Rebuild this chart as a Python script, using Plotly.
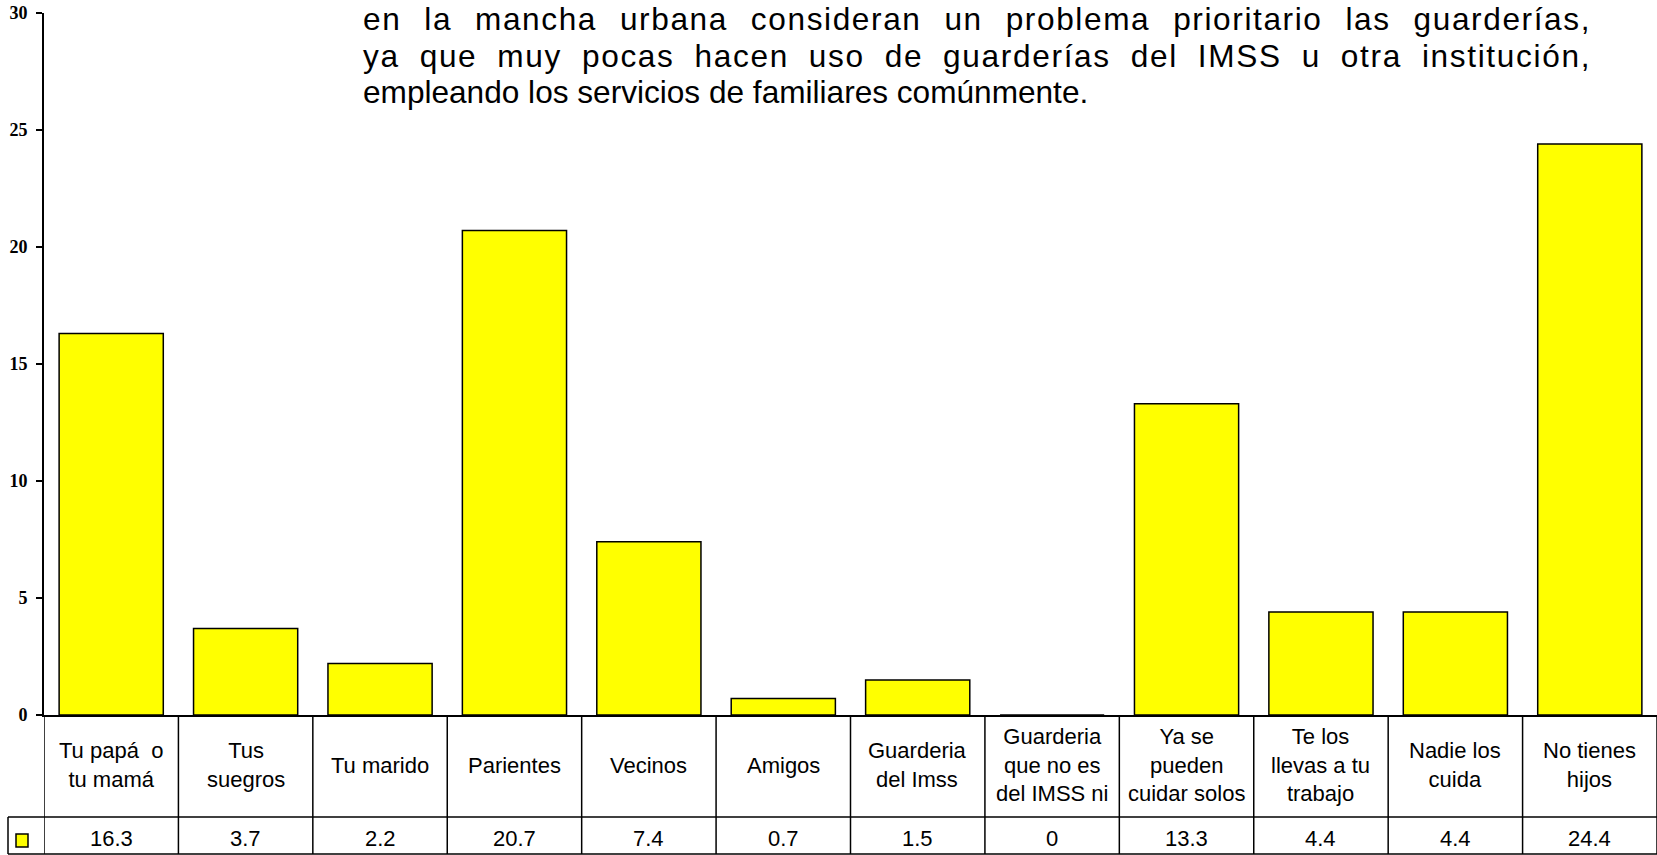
import plotly.graph_objects as go

# ---------------- data ----------------
categories = ["Tu papá o tu mamá", "Tus suegros", "Tu marido", "Parientes", "Vecinos",
              "Amigos", "Guarderia del Imss", "Guarderia que no es del IMSS ni",
              "Ya se pueden cuidar solos", "Te los llevas a tu trabajo",
              "Nadie los cuida", "No tienes hijos"]
category_labels = ["Tu papá  o<br>tu mamá", "Tus<br>suegros", "Tu marido", "Parientes",
                   "Vecinos", "Amigos", "Guarderia<br>del Imss",
                   "Guarderia<br>que no es<br>del IMSS ni", "Ya se<br>pueden<br>cuidar solos",
                   "Te los<br>llevas a tu<br>trabajo", "Nadie los<br>cuida", "No tienes<br>hijos"]
values = [16.3, 3.7, 2.2, 20.7, 7.4, 0.7, 1.5, 0, 13.3, 4.4, 4.4, 24.4]
value_labels = ["16.3", "3.7", "2.2", "20.7", "7.4", "0.7", "1.5", "0", "13.3", "4.4", "4.4", "24.4"]
y_ticks = [0, 5, 10, 15, 20, 25, 30]
paragraph_lines = [
    "en la mancha urbana consideran un problema prioritario las guarderías,",
    "ya que muy pocas hacen uso de guarderías del IMSS u otra institución,",
    "empleando los servicios de familiares comúnmente.",
]
paragraph_justified = [True, True, False]

# ---------------- layout helpers ----------------
W, H = 1657, 855
def xp(px):
    return px / W
def yp(py):
    return 1 - py / H

PLOT_L, PLOT_T, PLOT_B = 44, 13, 715
ROW1_B = 817
ROW2_B = 854
LEG_L = 8

YELLOW = "#FFFF00"
SANS = "Liberation Sans, Arial"

# Arial / Liberation Sans advance widths (units per 1000)
AW = {' ': 278, ',': 278, '.': 278, 'a': 556, 'b': 556, 'c': 500, 'd': 556, 'e': 556,
      'f': 278, 'g': 556, 'h': 556, 'i': 222, 'j': 222, 'k': 500, 'l': 222, 'm': 833,
      'n': 556, 'o': 556, 'p': 556, 'q': 556, 'r': 333, 's': 500, 't': 278, 'u': 556,
      'v': 500, 'w': 722, 'x': 500, 'y': 500, 'z': 500, 'í': 278, 'ó': 556, 'ú': 556,
      'á': 556, 'é': 556, 'I': 278, 'M': 833, 'S': 667}
def tw(s, size):
    return sum(AW.get(c, 556) for c in s) / 1000.0 * size

fig = go.Figure()
fig.add_trace(go.Bar(
    x=categories, y=values,
    marker=dict(color=YELLOW, line=dict(color="black", width=1.5)),
    showlegend=False, hoverinfo="x+y",
))

annotations = []
shapes = []

# category labels & value row
for cat, lab, vl in zip(categories, category_labels, value_labels):
    annotations.append(dict(x=cat, xref="x", y=yp((PLOT_B + ROW1_B) / 2 - 1), yref="paper",
                            text=lab, showarrow=False, xanchor="center", yanchor="middle",
                            font=dict(family=SANS, size=22, color="black")))
    annotations.append(dict(x=cat, xref="x", y=yp(838), yref="paper",
                            text=vl, showarrow=False, xanchor="center", yanchor="middle",
                            font=dict(family=SANS, size=22, color="black")))

# table grid lines
n = len(categories)
for i in range(n + 1):
    shapes.append(dict(type="line", xref="x", yref="paper", x0=i - 0.5, x1=i - 0.5,
                       y0=yp(PLOT_B), y1=yp(ROW2_B), line=dict(color="black", width=1.5)))
for yy in (ROW1_B, ROW2_B):
    shapes.append(dict(type="line", xref="paper", yref="paper", x0=xp(LEG_L), x1=1,
                       y0=yp(yy), y1=yp(yy), line=dict(color="black", width=1.5)))
shapes.append(dict(type="line", xref="paper", yref="paper", x0=xp(LEG_L), x1=xp(LEG_L),
                   y0=yp(ROW1_B), y1=yp(ROW2_B), line=dict(color="black", width=1.5)))
# legend key
shapes.append(dict(type="rect", xref="paper", yref="paper", x0=xp(16), x1=xp(28),
                   y0=yp(847), y1=yp(834), fillcolor=YELLOW, line=dict(color="black", width=1.5)))

# justified paragraph text: extra width shared between letter- and word-spacing
TXT_SIZE = 31.6
TXT_L, TXT_R = 362, 1590
LETTER_SHARE = 0.5
line_y = [19, 56, 92]
for line, just, ly in zip(paragraph_lines, paragraph_justified, line_y):
    if just:
        extra = TXT_R - TXT_L - tw(line, TXT_SIZE)
        ls = extra * LETTER_SHARE / len(line)
        ws = extra * (1 - LETTER_SHARE) / line.count(" ")
        txt = '<span style="letter-spacing:%.2fpx;word-spacing:%.2fpx">%s</span>' % (ls, ws, line)
    else:
        txt = line
    annotations.append(dict(x=xp(TXT_L), xref="paper", y=yp(ly), yref="paper", text=txt,
                            showarrow=False, xanchor="left", yanchor="middle",
                            borderpad=0,
                            font=dict(family=SANS, size=TXT_SIZE, color="black")))

fig.update_layout(
    width=W, height=H,
    margin=dict(l=0, r=0, t=0, b=0),
    paper_bgcolor="white", plot_bgcolor="white",
    bargap=0.225,
    annotations=annotations, shapes=shapes,
    xaxis=dict(domain=[xp(PLOT_L), 1], range=[-0.5, n - 0.5], showticklabels=False,
               ticks="", showgrid=False, zeroline=False, showline=True,
               linecolor="black", linewidth=2, automargin=False, fixedrange=True),
    yaxis=dict(domain=[yp(PLOT_B), yp(PLOT_T)], range=[0, 30], tickvals=y_ticks,
               ticks="outside", ticklen=6, tickwidth=1.5, tickcolor="black",
               ticklabelstandoff=5,
               showgrid=False, zeroline=False, showline=True, linecolor="black",
               linewidth=2, automargin=False, fixedrange=True,
               tickfont=dict(family="Liberation Serif, Times New Roman", size=18,
                             color="black", weight="bold")),
)

fig.write_html("out.html", config={"displayModeBar": False},
               post_script="document.body.style.margin='0';document.body.style.overflow='hidden';")
